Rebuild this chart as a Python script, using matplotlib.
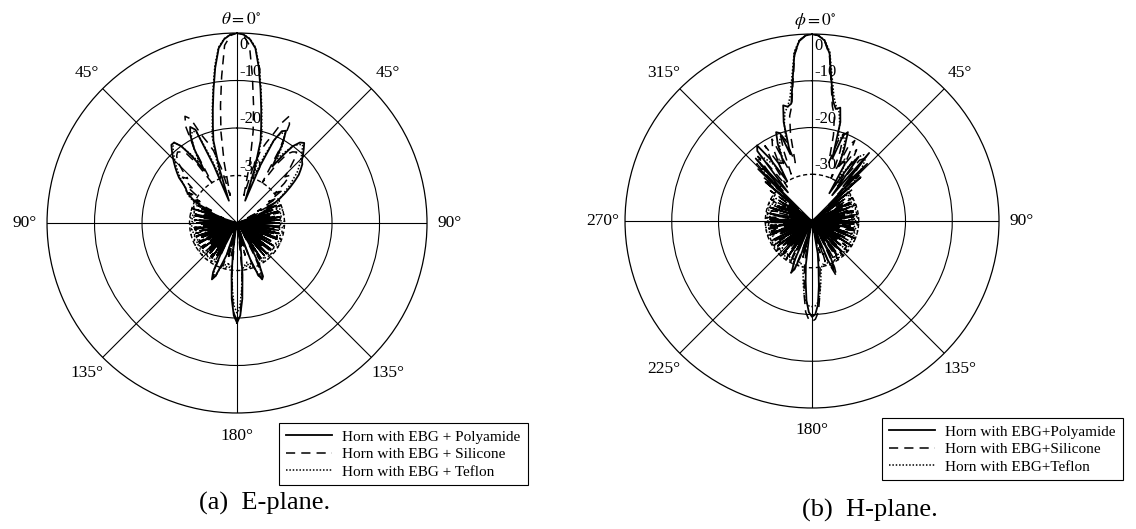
# Radiation patterns of the EBG horn, E-plane and H-plane (polar, dB)
import numpy as np
import matplotlib
matplotlib.use("Agg")
import matplotlib.pyplot as plt
import matplotlib.transforms as mtransforms

plt.rcParams['font.family'] = ['Liberation Serif', 'DejaVu Serif']
plt.rcParams['mathtext.fontset'] = 'stix'

# ---------------- data (dB) ----------------
e_angles = list(range(-180, 181, 2))   # theta, degrees
h_angles = list(range(0, 361, 2))      # phi, degrees

e_polyamide = [
    -19, -20.5, -24, -29, -34, -38, -40, -35, -39, -33,
    -31, -28, -27, -28.5, -33, -39, -32, -40, -31, -36,
    -40, -31.5, -38, -32, -40, -33, -37, -31, -40, -34,
    -39, -31, -36, -40, -32, -38, -31, -40, -35, -32,
    -40, -31, -37, -33, -40, -31.5, -39, -32, -36, -40,
    -31, -38, -33, -40, -31, -36, -32, -34, -31, -29.5,
    -28.5, -27.5, -27, -26, -24.5, -23.5, -22.5, -21.5, -20.5, -19.5,
    -18.5, -18.5, -20, -23, -27, -22, -19, -17.5, -18.5, -27,
    -35, -28, -22, -19, -15.5, -11.5, -7, -3, -1.2, -0.3,
    0, -0.3, -1.2, -3, -7, -11.5, -15.5, -19, -22, -28,
    -35, -27, -21, -18.5, -18, -21, -26, -23, -20, -18.5,
    -18, -19, -20, -21, -21.5, -22.5, -23.5, -25, -26.5, -28,
    -29.5, -31, -33, -31, -35, -32, -40, -31, -37, -33,
    -40, -31, -36, -32, -39, -31, -40, -34, -31, -38,
    -32, -40, -31, -37, -33, -40, -31, -36, -39, -32,
    -40, -31, -35, -38, -31, -40, -33, -37, -31, -39,
    -32, -40, -36, -31, -39, -34, -30, -27.5, -27, -28.5,
    -32, -38, -35, -40, -37, -38, -34, -29, -24, -20.5,
    -19]

e_silicone = [
    -19.5, -21, -25, -30, -36, -33, -40, -32, -37, -31,
    -30, -28, -27.5, -29, -35, -31, -39, -33, -40, -31,
    -36, -40, -32, -38, -31, -39, -34, -40, -31, -37,
    -33, -40, -31, -36, -39, -32, -40, -35, -31, -38,
    -34, -40, -31, -37, -32, -40, -36, -31, -39, -33,
    -40, -31, -35, -38, -30, -37, -33, -31, -34, -29,
    -31, -28, -30, -27, -28, -25, -26, -24, -22, -21,
    -20.5, -21, -22, -25, -30, -22, -17, -15, -16, -20,
    -22, -24, -28, -34, -27, -20.5, -15, -9, -2.5, -0.5,
    0, -0.5, -2.5, -9, -15, -20.5, -27, -34, -28, -24,
    -22, -20, -17, -15, -16.5, -22, -30, -25, -22, -21,
    -20.5, -22, -24, -26, -25, -27, -30, -28, -32, -30,
    -35, -31, -38, -33, -30, -39, -34, -40, -31, -36,
    -32, -40, -37, -31, -38, -33, -40, -31, -35, -39,
    -31, -37, -40, -32, -36, -31, -39, -34, -40, -32,
    -37, -31, -40, -34, -38, -31, -36, -40, -32, -38,
    -31, -39, -35, -40, -31, -37, -32, -28.5, -27.5, -28,
    -31, -36, -40, -33, -39, -35, -38, -30, -25, -21,
    -19.5]

e_teflon = [
    -21, -22.5, -26, -30, -31, -30.5, -31.5, -30, -31, -30.5,
    -30, -28.5, -28, -29, -31, -30.5, -31, -30, -31.5, -30.5,
    -30, -31, -30.5, -31.5, -30, -31, -30.5, -30, -31, -30.5,
    -31, -30, -30.5, -31.5, -30, -31, -30.5, -31, -30, -30.5,
    -31.5, -30, -31, -30.5, -30, -31, -30.5, -31.5, -30, -31,
    -30.5, -30, -31, -30.5, -31, -30, -30.5, -31, -30, -29,
    -28, -27.5, -27, -26, -25, -24, -23, -22, -21, -20,
    -19, -18.5, -20, -22.5, -25, -22, -19.5, -18.5, -19, -25,
    -30, -26, -21, -18.5, -15, -11, -6.5, -2.8, -1.1, -0.3,
    0, -0.3, -1.1, -2.8, -6.5, -11, -15, -18.5, -21, -26,
    -30, -25, -21, -19, -18.5, -20.5, -24, -22, -20, -19,
    -18.5, -19.5, -20.5, -21.5, -22.5, -23.5, -25, -26, -27.5, -28.5,
    -29.5, -30, -30.5, -31, -30, -31.5, -30.5, -30, -31, -30.5,
    -30, -31, -30.5, -31.5, -30, -30.5, -31, -30, -30.5, -31,
    -30.5, -30, -31, -30.5, -31.5, -30, -31, -30.5, -30, -31,
    -30, -30.5, -31, -30, -31.5, -30.5, -30, -31, -30.5, -30,
    -30, -31, -30.5, -30, -31, -30.5, -30, -28.5, -28, -29,
    -30.5, -31, -30, -31.5, -30.5, -31, -30.5, -30, -26, -22.5,
    -21]

h_polyamide = [
    0, -0.3, -1.3, -4, -10, -14, -15.5, -15, -18, -26,
    -20.5, -19.5, -23, -27, -25.5, -26, -33, -26, -23, -33,
    -21, -30, -23, -35, -26, -38, -31, -40, -33, -39,
    -37, -40, -31, -35, -39, -32, -40, -34, -31, -38,
    -33, -40, -31, -36, -40, -32, -38, -31, -40, -35,
    -31, -39, -34, -40, -32, -37, -31, -40, -36, -33,
    -40, -31, -38, -34, -40, -32, -36, -39, -31, -37,
    -40, -33, -31, -38, -35, -40, -32, -30, -28.5, -31,
    -38, -34, -40, -36, -39, -33, -30, -26, -22, -20,
    -19.5, -20.5, -23, -27, -30.5, -36, -40, -33, -38, -32,
    -29, -28.5, -31, -38, -33, -40, -35, -31, -39, -34,
    -40, -31, -37, -34, -40, -32, -38, -31, -36, -40,
    -32, -39, -31, -35, -40, -33, -37, -31, -40, -34,
    -38, -31, -40, -36, -32, -39, -31, -37, -40, -33,
    -31, -38, -35, -40, -31, -36, -39, -32, -40, -34,
    -37, -33, -40, -34, -38, -27, -36, -24, -31, -22,
    -32, -21, -20, -24, -30, -25.5, -26, -26, -22, -19.5,
    -20, -25, -18, -14.5, -15, -14.5, -10, -4, -1.3, -0.3,
    0]

h_silicone = [
    0, -0.3, -1.4, -4.3, -10.5, -15, -17, -21, -27, -22,
    -20, -24, -30, -22, -20.5, -26, -22, -25, -31, -23.5,
    -22.5, -27, -32, -26, -30, -35, -29, -38, -31, -36,
    -30, -33, -39, -31, -34, -30, -37, -32, -40, -31,
    -34, -30, -38, -32, -31, -36, -30, -39, -33, -31,
    -37, -30, -32, -40, -31, -35, -30, -38, -32, -31,
    -39, -30, -34, -31, -37, -30, -40, -32, -35, -30,
    -38, -31, -33, -30, -39, -31, -36, -29, -27, -30,
    -35, -31, -38, -33, -36, -30, -28, -24, -20.5, -19,
    -18.5, -19, -20.5, -24, -28, -31, -36, -32, -38, -34,
    -29, -28, -31, -36, -30, -33, -39, -30, -32, -37,
    -31, -30, -38, -32, -35, -30, -40, -31, -33, -30,
    -37, -31, -30, -39, -32, -34, -30, -38, -31, -33,
    -30, -36, -31, -40, -30, -33, -38, -30, -32, -35,
    -30, -39, -31, -33, -30, -37, -31, -40, -32, -30,
    -36, -31, -39, -29, -35, -30, -26, -32, -23, -27,
    -22, -24, -31, -25, -21, -26, -22, -20.5, -29, -24,
    -20, -22, -27, -21, -17, -15, -10.5, -4.3, -1.4, -0.3,
    0]

h_teflon = [
    0, -0.3, -1.2, -3.6, -9, -13, -15, -16, -18.5, -22,
    -20.5, -21, -24, -26.5, -25, -26, -29, -25.5, -23, -22,
    -22, -23.5, -25, -27, -29, -30, -30.5, -31, -30, -30.5,
    -31, -30, -30.5, -31.5, -30, -31, -30.5, -30, -31, -30.5,
    -30, -31, -30.5, -30, -31.5, -30.5, -31, -30, -30.5, -31,
    -30.5, -30, -31, -30.5, -31.5, -30, -30.5, -31, -30, -30.5,
    -31, -30.5, -30, -31, -30.5, -31.5, -30, -30.5, -31, -30,
    -30.5, -31, -30, -30.5, -31, -30, -30.5, -29.5, -29, -30,
    -30.5, -31, -30, -30.5, -30, -29, -26.5, -24, -22.5, -21.8,
    -21.7, -21.8, -22.5, -24, -26.5, -29, -30, -30.5, -31, -30,
    -29.5, -29, -30.5, -31, -30, -30.5, -31, -30, -31.5, -30.5,
    -30.5, -31, -30, -30.5, -31.5, -30, -31, -30.5, -30, -31,
    -30, -30.5, -31, -30, -30.5, -31.5, -30, -31, -30.5, -30,
    -31, -30, -30.5, -31, -30, -30.5, -31.5, -30, -31, -30.5,
    -30, -31, -30.5, -30, -31, -30.5, -30, -31.5, -30.5, -31,
    -30.5, -31, -30, -30.5, -30, -29.5, -28, -27, -25, -23.5,
    -22, -22.5, -24, -25.5, -29, -26, -25, -26.5, -23, -21.5,
    -20.5, -22, -18.5, -16, -15, -13, -9, -3.6, -1.2, -0.3,
    0]

r_ticks = [0, -10, -20, -30]
e_angle_ticks = [45, 90, 135, 180, 225, 270, 315]
e_angle_labels = ['45°', '90°', '135°', '180°', '135°', '90°', '45°']
h_angle_ticks = [45, 90, 135, 180, 225, 270, 315]
h_angle_labels = ['45°', '90°', '135°', '180°', '225°', '270°', '315°']
e_legend = ['Horn with EBG + Polyamide', 'Horn with EBG + Silicone', 'Horn with EBG + Teflon']
h_legend = ['Horn with EBG+Polyamide', 'Horn with EBG+Silicone', 'Horn with EBG+Teflon']

fig = plt.figure(figsize=(11.36, 5.29), dpi=100)


def draw_pattern(rect, angles, series, labels, tick_angles, tick_labels, top_label,
                 legend_anchor, caption, caption_xy):
    ax = fig.add_axes(rect, projection='polar')
    ax.set_theta_zero_location('N')
    ax.set_theta_direction(-1)
    ax.set_rlim(-40, 0)
    ax.set_thetagrids(np.arange(0, 360, 45), labels=[''] * 8)
    ax.set_rgrids([-30, -20, -10], labels=['', '', ''])
    ax.grid(True, color='black', lw=0.8)
    gl = ax.yaxis.get_gridlines()
    gl[0].set_linestyle((0, (3, 2)))
    gl[0].set_linewidth(1.0)
    ax.spines['polar'].set_linewidth(0.9)
    ax.tick_params(length=0)

    th = np.deg2rad(angles)
    styles = [dict(ls='-', lw=1.3), dict(ls=(0, (6, 4)), lw=1.1), dict(ls=(0, (1, 1.2)), lw=1.1)]
    lines = []
    for vals, st in zip(series, styles):
        ln, = ax.plot(th, vals, color='black', **st)
        lines.append(ln)
    # keep solid on top
    lines[0].set_zorder(5)

    # radial labels next to the 0 deg line
    off_up = mtransforms.offset_copy(ax.transData, fig=fig, x=2, y=1, units='dots')
    off_dn = mtransforms.offset_copy(ax.transData, fig=fig, x=2, y=-4, units='dots')
    for r in r_ticks:
        if r == 0:
            ax.text(0, r, '0', transform=off_dn, ha='left', va='top', fontsize=12)
        else:
            ax.text(0, r, str(r), transform=off_up, ha='left', va='bottom', fontsize=12)

    # angle labels outside the ring
    for a, lab in zip(tick_angles, tick_labels):
        d = 0.56
        x = 0.5 + d * np.sin(np.deg2rad(a))
        y = 0.5 + d * np.cos(np.deg2rad(a))
        ax.text(x, y, lab, transform=ax.transAxes, ha='center', va='center', fontsize=12.5)
    ax.text(0.51, 1.035, top_label, transform=ax.transAxes, ha='center', va='center', fontsize=12.5)

    ax.legend(lines, labels, loc='upper left', bbox_to_anchor=legend_anchor,
              bbox_transform=fig.transFigure, fontsize=11, frameon=True, fancybox=False,
              edgecolor='black', framealpha=1, handlelength=3, handletextpad=0.7,
              labelspacing=0.25, borderpad=0.45, borderaxespad=0)
    ax.get_legend().get_frame().set_linewidth(0.8)
    fig.text(caption_xy[0], caption_xy[1], caption, ha='center', va='center', fontsize=19)
    return ax


draw_pattern([0.0414, 0.2193, 0.3345, 0.7183], e_angles,
             [e_polyamide, e_silicone, e_teflon], e_legend,
             e_angle_ticks, e_angle_labels, r'$\theta = 0^{\circ}$',
             (279 / 1136, 1 - 423 / 529), '(a)  E-plane.', (265 / 1136, 1 - 503 / 529))

draw_pattern([0.5502, 0.2287, 0.3292, 0.707], h_angles,
             [h_polyamide, h_silicone, h_teflon], h_legend,
             h_angle_ticks, h_angle_labels, r'$\phi = 0^{\circ}$',
             (882 / 1136, 1 - 418 / 529), '(b)  H-plane.', (870 / 1136, 1 - 510 / 529))

fig.savefig('out.png', dpi=100)
